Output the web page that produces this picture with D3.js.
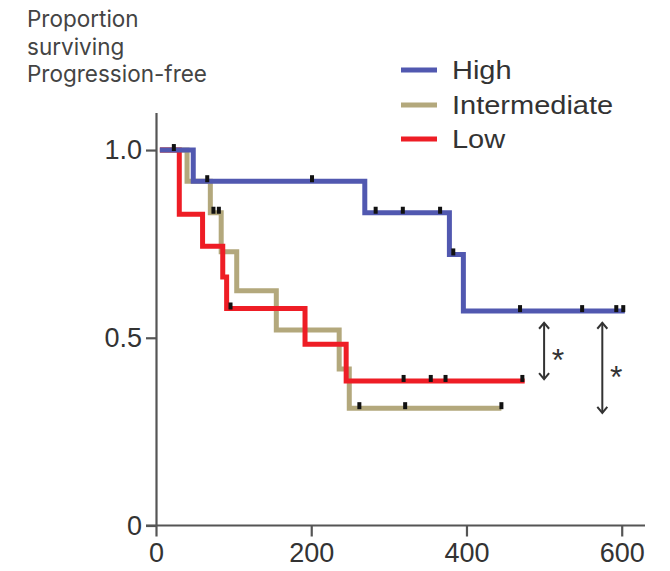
<!DOCTYPE html>
<html>
<head>
<meta charset="utf-8">
<script src="https://cdn.jsdelivr.net/npm/d3@7"></script>
<style>
  body { margin: 0; background: #fff; }
  svg { display: block; }
</style>
</head>
<body>
<div id="chart"></div>
<script>
// Kaplan-Meier style step data
const groups = ["High", "Intermediate", "Low"];
const colors = ["#5158b0", "#b3a87c", "#ee1d25"];

const highTimes = [5, 48, 269, 378, 396, 604];
const highSurv = [1.0, 0.917, 0.833, 0.722, 0.571, 0.571];
const highCensor = [66, 201, 283, 318, 366, 383, 469, 549, 593, 602];

const interTimes = [5, 40, 70, 84, 104, 155, 236, 249, 445];
const interSurv = [1.0, 0.917, 0.833, 0.729, 0.625, 0.521, 0.417, 0.3125, 0.3125];
const interCensor = [23, 74, 81, 262, 321, 445];

const lowTimes = [5, 30, 60, 86, 91, 192, 245, 475];
const lowSurv = [1.0, 0.829, 0.744, 0.662, 0.578, 0.483, 0.385, 0.385];
const lowCensor = [96, 319, 354, 373, 472];

const xTicks = [0, 200, 400, 600];
const yTicks = [0, 0.5, 1.0];
const yTickLabels = ["0", "0.5", "1.0"];

// significance brackets
const arrowX = [500, 575];
const arrowTop = [0.54, 0.54];
const arrowBottom = [0.39, 0.30];

const titleLines = ["Proportion", "surviving", "Progression-free"];

const width = 670, height = 571;

const svg = d3.select("#chart")
    .append("svg")
    .attr("width", width)
    .attr("height", height);

// scales
const xScale = d3.scaleLinear().domain([0, 630]).range([156, 645]);
const yScale = d3.scaleLinear().domain([0, 1.1]).range([525.5, 112.5]);

// title text, top left
svg.append("g")
    .selectAll("text")
    .data(titleLines)
    .join("text")
    .attr("x", 27)
    .attr("y", (d, i) => 27 + i * 27.5)
    .attr("font-family", "Inter, 'Noto Sans', sans-serif")
    .attr("font-size", 22.5)
    .attr("fill", "#444")
    .text(d => d);

// axes
const axisColor = "#555";
const xAxis = svg.append("g")
    .attr("transform", `translate(0,${yScale(0)})`)
    .call(d3.axisBottom(xScale).tickValues(xTicks).tickSize(11).tickSizeOuter(0).tickPadding(6));
const yAxis = svg.append("g")
    .attr("transform", `translate(${xScale(0)},0)`)
    .call(d3.axisLeft(yScale).tickValues(yTicks).tickSize(10).tickSizeOuter(0).tickPadding(4)
        .tickFormat((d, i) => yTickLabels[i]));

[xAxis, yAxis].forEach(ax => {
    ax.select(".domain").attr("stroke", axisColor).attr("stroke-width", 2.2);
    ax.selectAll(".tick line").attr("stroke", axisColor).attr("stroke-width", 2.2);
    ax.selectAll(".tick text")
        .attr("fill", "#333")
        .attr("font-family", "'Liberation Sans', Arial, sans-serif")
        .attr("font-size", 27);
});
// extend x-axis left past the y axis (as in the picture)
xAxis.select(".domain").attr("d", `M${xScale(0) - 10},0H${xScale(630)}`);

// step lines
const series = [
    {name: "Intermediate", times: interTimes, surv: interSurv, censor: interCensor, color: colors[1]},
    {name: "Low", times: lowTimes, surv: lowSurv, censor: lowCensor, color: colors[2]},
    {name: "High", times: highTimes, surv: highSurv, censor: highCensor, color: colors[0]}
];

const line = d3.line()
    .x(d => xScale(d[0]))
    .y(d => yScale(d[1]))
    .curve(d3.curveStepAfter);

svg.append("g")
    .selectAll("path")
    .data(series)
    .join("path")
    .attr("fill", "none")
    .attr("stroke", d => d.color)
    .attr("stroke-width", 5)
    .attr("stroke-linejoin", "miter")
    .attr("d", s => line(s.times.map((t, i) => [t, s.surv[i]])));

// survival value at a time (step function lookup)
function survAt(s, t) {
    let v = s.surv[0];
    for (let i = 0; i < s.times.length; i++) {
        if (s.times[i] <= t) v = s.surv[i];
    }
    return v;
}

// censor ticks
const censorData = [];
series.forEach(s => s.censor.forEach(t => censorData.push({t: t, v: survAt(s, t)})));
svg.append("g")
    .selectAll("rect")
    .data(censorData)
    .join("rect")
    .attr("x", d => xScale(d.t) - 2)
    .attr("y", d => yScale(d.v) - 6)
    .attr("width", 4)
    .attr("height", 7)
    .attr("fill", "#111");

// legend (text is a little stretched sideways in the picture)
const legend = svg.append("g");
const legendY = [70, 105, 139];
legend.selectAll("line")
    .data(groups)
    .join("line")
    .attr("x1", 401).attr("x2", 437)
    .attr("y1", (d, i) => legendY[i]).attr("y2", (d, i) => legendY[i])
    .attr("stroke", (d, i) => colors[i])
    .attr("stroke-width", 5);
legend.selectAll("text")
    .data(groups)
    .join("text")
    .attr("transform", (d, i) => `translate(452,${legendY[i]}) scale(1.16,1)`)
    .attr("dy", "0.36em")
    .attr("font-family", "'Liberation Sans', Arial, sans-serif")
    .attr("font-size", 25)
    .attr("fill", "#333")
    .text(d => d);

// double headed arrows with stars
const arrows = svg.append("g").attr("stroke", "#333").attr("stroke-width", 2).attr("fill", "none");
arrowX.forEach((ax, i) => {
    const x = xScale(ax), y1 = yScale(arrowTop[i]), y2 = yScale(arrowBottom[i]);
    arrows.append("line").attr("x1", x).attr("x2", x).attr("y1", y1).attr("y2", y2);
    arrows.append("path").attr("d", `M${x - 5},${y1 + 6}L${x},${y1}L${x + 5},${y1 + 6}`);
    arrows.append("path").attr("d", `M${x - 5},${y2 - 6}L${x},${y2}L${x + 5},${y2 - 6}`);
    svg.append("text")
        .attr("x", x + 14)
        .attr("y", (y1 + y2) / 2)
        .attr("dy", "0.62em")
        .attr("text-anchor", "middle")
        .attr("font-family", "'Liberation Sans', Arial, sans-serif")
        .attr("font-size", 32)
        .attr("fill", "#333")
        .text("*");
});
</script>
</body>
</html>
